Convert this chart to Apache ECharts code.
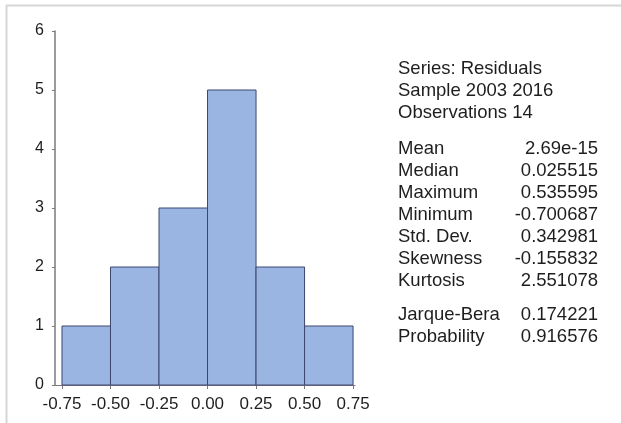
<!DOCTYPE html>
<html>
<head>
<meta charset="utf-8">
<script src="https://cdn.jsdelivr.net/npm/echarts@6/dist/echarts.min.js"></script>
<style>
  html, body { margin: 0; padding: 0; background: #fff; }
  #chart { width: 621px; height: 423px; }
</style>
</head>
<body>
<div id="chart"></div>
<script>
// Histogram of residuals: bin edges and counts
const binStarts = [-0.75, -0.50, -0.25, 0.00, 0.25, 0.50];
const binEnds   = [-0.50, -0.25, 0.00, 0.25, 0.50, 0.75];
const counts    = [1, 2, 3, 5, 2, 1];

// Axis tick values
const xTicks = [-0.75, -0.50, -0.25, 0.00, 0.25, 0.50, 0.75];
const yTicks = [0, 1, 2, 3, 4, 5, 6];

// Descriptive statistics panel
const headerLines = ['Series: Residuals', 'Sample 2003 2016', 'Observations 14'];
const statNames  = ['Mean', 'Median', 'Maximum', 'Minimum', 'Std. Dev.', 'Skewness', 'Kurtosis'];
const statValues = ['2.69e-15', '0.025515', '0.535595', '-0.700687', '0.342981', '-0.155832', '2.551078'];
const testNames  = ['Jarque-Bera', 'Probability'];
const testValues = ['0.174221', '0.916576'];

const FONT = '"Liberation Sans", Arial, sans-serif';
const TEXT_COLOR = '#1e1e1e';
const AXIS_COLOR = '#7a7a7a';

const chart = echarts.init(document.getElementById('chart'));

// Statistics text as graphic elements
const panel = [];
const textX = 398, valueX = 598, lineStep = 22;
const panelFont = 'normal 18.5px ' + FONT;
function addLines(lines, startY) {
  lines.forEach((t, i) => {
    panel.push({ type: 'text', x: textX, y: startY + i * lineStep,
      style: { text: t, font: panelFont, fill: TEXT_COLOR, textVerticalAlign: 'middle' } });
  });
}
function addRows(names, values, startY) {
  addLines(names, startY);
  values.forEach((v, i) => {
    panel.push({ type: 'text', x: valueX, y: startY + i * lineStep,
      style: { text: v, font: panelFont, fill: TEXT_COLOR, textAlign: 'right', textVerticalAlign: 'middle' } });
  });
}
addLines(headerLines, 69);
addRows(statNames, statValues, 149);
addRows(testNames, testValues, 315);

// Frame lines along the top and left edges
panel.push({ type: 'line', shape: { x1: 6, y1: 5.5, x2: 621, y2: 5.5 },
  style: { stroke: '#d6d6d6', lineWidth: 2 } });
panel.push({ type: 'line', shape: { x1: 6.5, y1: 5, x2: 6.5, y2: 423 },
  style: { stroke: '#d6d6d6', lineWidth: 2 } });

const option = {
  animation: false,
  backgroundColor: '#ffffff',
  grid: { left: 55, right: 266, top: 31, bottom: 38, containLabel: false },
  xAxis: {
    type: 'value',
    min: -0.786,
    max: 0.76,
    splitLine: { show: false },
    axisLine: { show: true, onZero: false, lineStyle: { color: AXIS_COLOR, width: 1 } },
    axisTick: { show: true, customValues: xTicks, length: 4, lineStyle: { color: AXIS_COLOR } },
    axisLabel: {
      customValues: xTicks,
      formatter: v => v.toFixed(2),
      color: TEXT_COLOR, fontFamily: FONT, fontSize: 17, margin: 11
    }
  },
  yAxis: {
    type: 'value',
    min: 0,
    max: 6,
    interval: 1,
    splitLine: { show: false },
    axisLine: { show: true, onZero: false, lineStyle: { color: AXIS_COLOR, width: 1.5 } },
    axisTick: { show: true, length: 3, lineStyle: { color: AXIS_COLOR } },
    axisLabel: {
      customValues: yTicks,
      color: TEXT_COLOR, fontFamily: FONT, fontSize: 16, margin: 11
    }
  },
  series: [{
    type: 'custom',
    renderItem: function (params, api) {
      const p0 = api.coord([api.value(0), api.value(2)]);
      const p1 = api.coord([api.value(1), 0]);
      return {
        type: 'rect',
        shape: { x: p0[0], y: p0[1], width: p1[0] - p0[0], height: p1[1] - p0[1] },
        style: { fill: '#9bb5e2', stroke: '#3c4670', lineWidth: 1 }
      };
    },
    encode: { x: [0, 1], y: 2 },
    data: binStarts.map((s, i) => [s, binEnds[i], counts[i]])
  }],
  graphic: panel
};

chart.setOption(option);
</script>
</body>
</html>
